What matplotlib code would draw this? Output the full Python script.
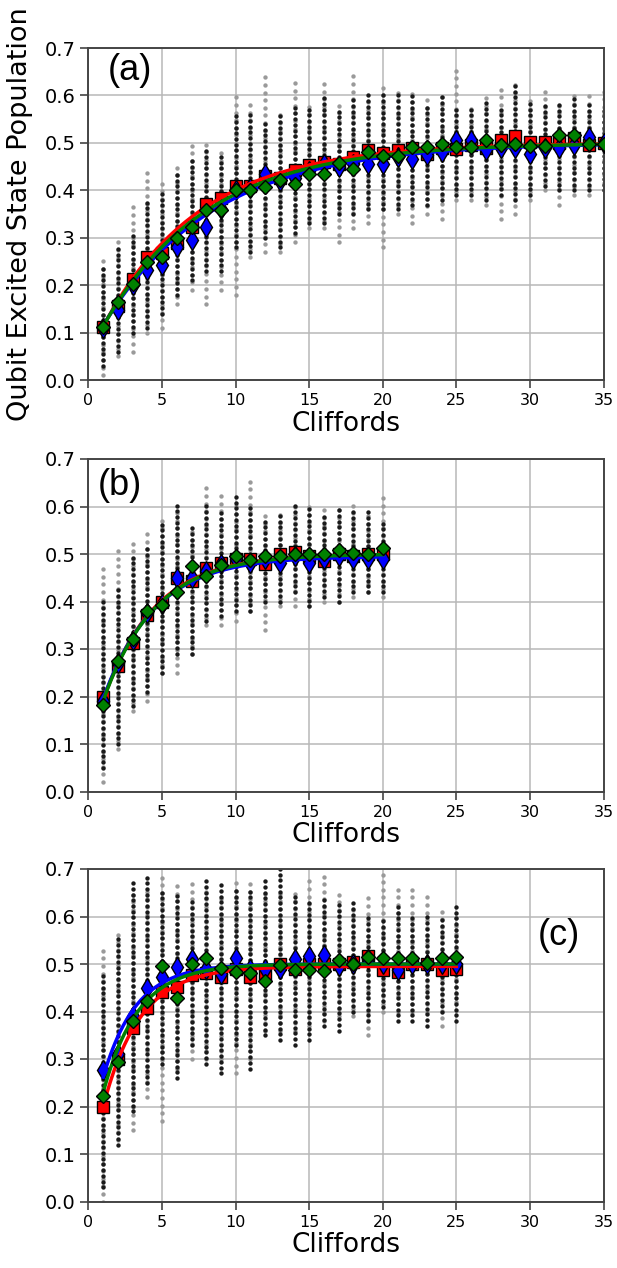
import numpy as np
import matplotlib
matplotlib.use("Agg")
import matplotlib.pyplot as plt

# ---------------- data ----------------
# Panel (a)
a_red = [0.112, 0.155, 0.214, 0.259, 0.268, 0.288, 0.323, 0.372, 0.383, 0.41, 0.41, 0.43, 0.425, 0.442, 0.453,
         0.46, 0.455, 0.47, 0.484, 0.478, 0.484, 0.49, 0.477, 0.49, 0.486, 0.495, 0.49, 0.505, 0.514, 0.502,
         0.502, 0.50, 0.51, 0.495, 0.50]
a_blue = [0.11, 0.147, 0.20, 0.232, 0.242, 0.281, 0.295, 0.323, 0.36, 0.40, 0.405, 0.435, 0.42, 0.425, 0.44,
          0.456, 0.45, 0.455, 0.456, 0.456, 0.47, 0.467, 0.474, 0.481, 0.505, 0.505, 0.484, 0.49, 0.49, 0.477,
          0.49, 0.49, 0.495, 0.512, 0.50]
a_green = [0.112, 0.165, 0.202, 0.249, 0.259, 0.299, 0.323, 0.358, 0.358, 0.401, 0.401, 0.407, 0.421, 0.414, 0.435,
           0.435, 0.457, 0.444, 0.481, 0.472, 0.472, 0.491, 0.491, 0.497, 0.491, 0.491, 0.507, 0.495, 0.497, 0.493,
           0.493, 0.516, 0.516, 0.497, 0.497]
# per-Clifford spread of the individual sequences: (low, high)
a_black = [(0.03, 0.24), (0.06, 0.28), (0.10, 0.31), (0.11, 0.38), (0.14, 0.40), (0.18, 0.44), (0.21, 0.47),
           (0.23, 0.49), (0.23, 0.47), (0.28, 0.56), (0.27, 0.56), (0.30, 0.54), (0.28, 0.56), (0.31, 0.58),
           (0.33, 0.57), (0.33, 0.60), (0.35, 0.57), (0.35, 0.60), (0.36, 0.60), (0.36, 0.61), (0.36, 0.60),
           (0.37, 0.60), (0.37, 0.58), (0.38, 0.60), (0.39, 0.58), (0.39, 0.57), (0.38, 0.59), (0.39, 0.57),
           (0.38, 0.62), (0.39, 0.59), (0.41, 0.58), (0.40, 0.59), (0.40, 0.60), (0.40, 0.58), (0.40, 0.57)]
a_gray = [(0.01, 0.25), (0.05, 0.30), (0.06, 0.37), (0.10, 0.45), (0.11, 0.42), (0.16, 0.46), (0.19, 0.50),
          (0.16, 0.51), (0.19, 0.48), (0.18, 0.60), (0.26, 0.58), (0.27, 0.64), (0.27, 0.57), (0.29, 0.63),
          (0.32, 0.58), (0.32, 0.63), (0.29, 0.58), (0.32, 0.65), (0.33, 0.60), (0.28, 0.62), (0.35, 0.61),
          (0.33, 0.61), (0.35, 0.60), (0.34, 0.60), (0.38, 0.655), (0.38, 0.58), (0.37, 0.60), (0.34, 0.62),
          (0.35, 0.63), (0.38, 0.59), (0.40, 0.61), (0.37, 0.59), (0.39, 0.60), (0.39, 0.60), (0.40, 0.61)]

# Panel (b)
b_red = [0.20, 0.264, 0.312, 0.372, 0.40, 0.45, 0.443, 0.47, 0.482, 0.49, 0.49, 0.478, 0.50, 0.505, 0.495,
         0.485, 0.50, 0.495, 0.50, 0.50]
b_blue = [0.19, 0.27, 0.32, 0.375, 0.395, 0.45, 0.45, 0.465, 0.48, 0.49, 0.482, 0.49, 0.482, 0.495, 0.482,
          0.49, 0.495, 0.49, 0.49, 0.49]
b_green = [0.182, 0.274, 0.321, 0.381, 0.392, 0.421, 0.474, 0.453, 0.477, 0.495, 0.488, 0.495, 0.495, 0.499,
           0.499, 0.499, 0.509, 0.502, 0.50, 0.513]
b_black = [(0.05, 0.40), (0.10, 0.43), (0.18, 0.50), (0.21, 0.52), (0.25, 0.57), (0.29, 0.61), (0.29, 0.56),
           (0.36, 0.60), (0.37, 0.59), (0.38, 0.62), (0.38, 0.60), (0.40, 0.57), (0.40, 0.58), (0.42, 0.61),
           (0.39, 0.60), (0.41, 0.58), (0.40, 0.60), (0.42, 0.59), (0.42, 0.59), (0.42, 0.57)]
b_gray = [(0.02, 0.47), (0.09, 0.52), (0.17, 0.53), (0.19, 0.55), (0.25, 0.58), (0.25, 0.60), (0.29, 0.56),
          (0.35, 0.64), (0.35, 0.63), (0.36, 0.60), (0.38, 0.66), (0.34, 0.59), (0.39, 0.59), (0.39, 0.60),
          (0.39, 0.60), (0.40, 0.60), (0.40, 0.60), (0.41, 0.61), (0.42, 0.59), (0.41, 0.625)]

# Panel (c)
c_red = [0.20, 0.30, 0.365, 0.407, 0.442, 0.452, 0.477, 0.481, 0.473, 0.49, 0.473, 0.48, 0.50, 0.49, 0.50,
         0.50, 0.50, 0.505, 0.516, 0.487, 0.484, 0.50, 0.50, 0.488, 0.49]
c_blue = [0.277, 0.31, 0.39, 0.449, 0.473, 0.494, 0.51, 0.49, 0.48, 0.513, 0.49, 0.49, 0.49, 0.51, 0.517,
          0.518, 0.495, 0.50, 0.51, 0.50, 0.487, 0.50, 0.50, 0.50, 0.50]
c_green = [0.222, 0.294, 0.381, 0.423, 0.496, 0.428, 0.50, 0.513, 0.492, 0.484, 0.481, 0.465, 0.498, 0.487,
           0.487, 0.485, 0.508, 0.50, 0.515, 0.512, 0.512, 0.512, 0.503, 0.512, 0.515]
c_black = [(0.03, 0.48), (0.12, 0.56), (0.19, 0.67), (0.25, 0.69), (0.29, 0.66), (0.26, 0.65), (0.33, 0.63),
           (0.29, 0.68), (0.27, 0.67), (0.33, 0.66), (0.28, 0.655), (0.35, 0.68), (0.34, 0.70), (0.33, 0.65),
           (0.34, 0.63), (0.37, 0.64), (0.36, 0.63), (0.40, 0.63), (0.38, 0.60), (0.41, 0.595), (0.38, 0.62),
           (0.38, 0.60), (0.37, 0.60), (0.40, 0.60), (0.38, 0.62)]
c_gray = [(0.00, 0.54), (0.13, 0.57), (0.15, 0.66), (0.22, 0.66), (0.17, 0.69), (0.28, 0.67), (0.30, 0.675),
          (0.30, 0.66), (0.30, 0.65), (0.27, 0.68), (0.30, 0.68), (0.36, 0.65), (0.36, 0.66), (0.36, 0.65),
          (0.37, 0.685), (0.38, 0.69), (0.39, 0.66), (0.39, 0.62), (0.35, 0.65), (0.40, 0.69), (0.40, 0.66),
          (0.40, 0.67), (0.40, 0.65), (0.37, 0.61), (0.42, 0.60)]

# fit parameters  y = A - B * p**m   (red, blue, green)
a_fits = [(0.50, 0.45, 0.86), (0.50, 0.44, 0.875), (0.50, 0.445, 0.868)]
b_fits = [(0.50, 0.41, 0.75), (0.495, 0.40, 0.75), (0.50, 0.41, 0.753)]
c_fits = [(0.495, 0.44, 0.67), (0.50, 0.372, 0.64), (0.50, 0.413, 0.655)]

panel_labels = ["(a)", "(b)", "(c)"]
label_pos = [(2.8, 0.653), (2.15, 0.645), (32.0, 0.561)]
xticks = [0, 5, 10, 15, 20, 25, 30, 35]
yticks = [0.0, 0.1, 0.2, 0.3, 0.4, 0.5, 0.6, 0.7]

# ---------------- figure ----------------
W, H = 617, 1268
fig = plt.figure(figsize=(W / 100, H / 100), dpi=100)
left = 88.5 / W
width = (603.5 - 88.5) / W
boxes = [(48, 380), (459, 791.5), (869, 1201.5)]

panels = [
    (a_red, a_blue, a_green, a_black, a_gray, a_fits),
    (b_red, b_blue, b_green, b_black, b_gray, b_fits),
    (c_red, c_blue, c_green, c_black, c_gray, c_fits),
]

cols = ["red", "blue", "green"]
for i, ((red, blue, green, blk, gry, fits), (top, bot)) in enumerate(zip(panels, boxes)):
    ax = fig.add_axes([left, 1 - bot / H, width, (bot - top) / H])
    n = len(red)
    m = np.arange(1, n + 1)

    # individual sequences (spread per Clifford)
    for k, (lo, hi) in enumerate(gry):
        vals = np.arange(lo, hi + 1e-9, 0.016)
        ax.scatter(np.full(len(vals), m[k]), vals, s=10, color="#9a9a9a", lw=0, zorder=2)
    for k, (lo, hi) in enumerate(blk):
        vals = np.arange(lo, hi + 1e-9, 0.012)
        ax.scatter(np.full(len(vals), m[k]), vals, s=10, color="#1a1a1a", lw=0, zorder=2.1)

    xf = np.linspace(1, n, 300)
    ax.plot(m, red, ls="none", marker="s", ms=8.5, mfc="red", mec="black", mew=1.0, zorder=3)
    ax.plot(m, blue, ls="none", marker="d", ms=10, mfc="blue", mec="black", mew=1.0, zorder=3.1)
    for (A, B, p), c in zip(fits, cols):
        ax.plot(xf, A - B * p ** xf, color=c, lw=2.5, zorder=3.2)
    ax.plot(m, green, ls="none", marker="D", ms=7.5, mfc="green", mec="black", mew=1.0, zorder=3.5)

    ax.set_xlim(0, 35)
    ax.set_ylim(0, 0.7)
    ax.set_xticks(xticks)
    ax.set_yticks(yticks)
    ax.set_yticklabels([f"{v:.1f}" for v in yticks])
    ax.grid(True, color="#b8b8b8", lw=1.1, zorder=0)
    ax.set_axisbelow(True)
    ax.tick_params(axis="y", labelsize=14, length=6, width=1.2, color="#444444")
    ax.tick_params(axis="x", labelsize=11.5, length=6, width=1.2, color="#444444")
    for s in ax.spines.values():
        s.set_color("#444444")
        s.set_linewidth(1.4)
    ax.set_xlabel("Cliffords", fontsize=19, labelpad=2)
    if i == 0:
        ax.set_ylabel("Qubit Excited State Population", fontsize=19.5, labelpad=8)
    ax.text(label_pos[i][0], label_pos[i][1], panel_labels[i], fontsize=26,
            family="Liberation Sans", ha="center", va="center", zorder=5)

fig.savefig("out.png", dpi=100)
